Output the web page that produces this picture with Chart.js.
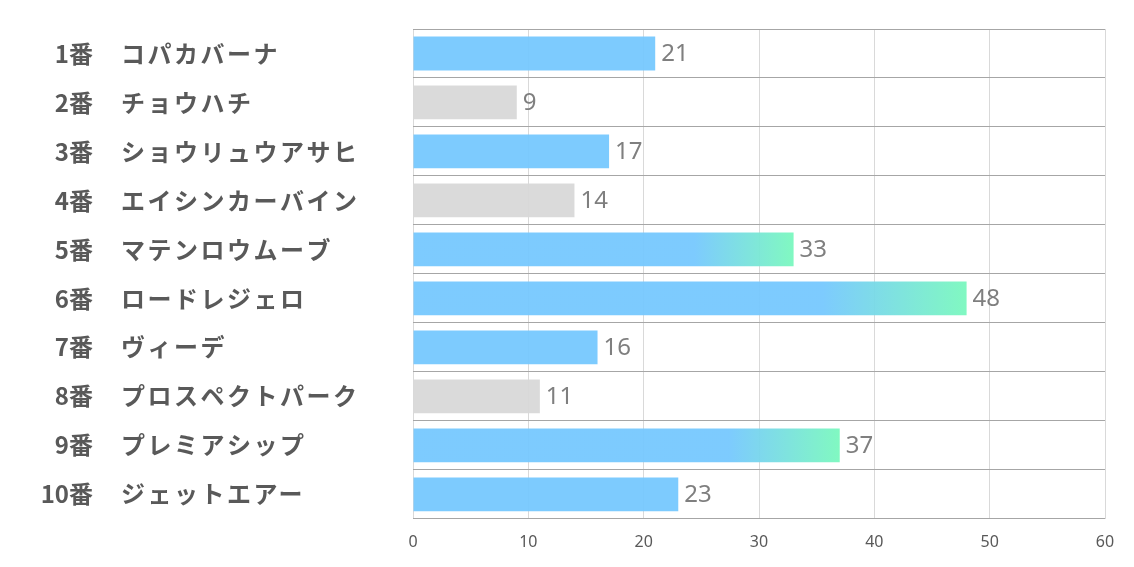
<!DOCTYPE html>
<html>
<head>
<meta charset="utf-8">
<script src="https://cdn.jsdelivr.net/npm/chart.js@4"></script>
<style>
  html, body { margin: 0; padding: 0; background: #fff; }
  #wrap { width: 1134px; height: 567px; }
</style>
</head>
<body>
<div id="wrap"><canvas id="barchart"></canvas></div>
<script>
var numLabels = ["1番", "2番", "3番", "4番", "5番", "6番", "7番", "8番", "9番", "10番"];
var horseNames = ["コパカバーナ", "チョウハチ", "ショウリュウアサヒ", "エイシンカーバイン", "マテンロウムーブ",
                  "ロードレジェロ", "ヴィーデ", "プロスペクトパーク", "プレミアシップ", "ジェットエアー"];
var votes = [21, 9, 17, 14, 33, 48, 16, 11, 37, 23];
var xTicks = [0, 10, 20, 30, 40, 50, 60];

var blue = "rgba(118,200,254,0.95)";
var green = "rgba(122,248,190,0.95)";
var grey = "rgba(216,216,216,0.95)";

function barColor(c) {
    var v = votes[c.dataIndex];
    if (v < 15) return grey;
    if (v < 30) return blue;
    var chart = c.chart;
    if (!chart.chartArea) return blue;
    var x0 = chart.scales.x.getPixelForValue(0);
    var x1 = chart.scales.x.getPixelForValue(v);
    var g = chart.ctx.createLinearGradient(x0, 0, x1, 0);
    g.addColorStop(0, blue);
    g.addColorStop(0.74, blue);
    g.addColorStop(1, green);
    return g;
}

// category labels: number right aligned, name left aligned
var labelPlugin = {
    id: "labelPlugin",
    afterDraw: function (chart) {
        var ctx = chart.ctx;
        var y = chart.scales.y;
        ctx.save();
        ctx.fillStyle = "#595959";
        ctx.font = "bold 24px 'Noto Sans CJK JP'";
        ctx.textBaseline = "middle";
        numLabels.forEach(function (n, i) {
            var py = y.getPixelForValue(i);
            ctx.letterSpacing = "0px";
            ctx.textAlign = "right";
            ctx.fillText(n, 93, py);
            ctx.letterSpacing = "2.5px";
            ctx.textAlign = "left";
            ctx.fillText(horseNames[i], 121, py);
        });
        ctx.restore();
    }
};

// value labels at bar ends
var valuePlugin = {
    id: "valuePlugin",
    afterDatasetsDraw: function (chart) {
        var ctx = chart.ctx;
        var meta = chart.getDatasetMeta(0);
        ctx.save();
        ctx.fillStyle = "#7f7f7f";
        ctx.font = "24px 'Noto Sans'";
        ctx.textBaseline = "middle";
        ctx.textAlign = "left";
        meta.data.forEach(function (bar, i) {
            ctx.fillText(String(votes[i]), bar.x + 6, bar.y + 1);
        });
        ctx.restore();
    }
};

var config = {
    type: "bar",
    data: {
        labels: numLabels.map(function (n, i) { return n + "　" + horseNames[i]; }),
        datasets: [{
            data: votes,
            backgroundColor: barColor,
            borderWidth: 0,
            barPercentage: 0.69,
            categoryPercentage: 1
        }]
    },
    options: {
        indexAxis: "y",
        responsive: true,
        maintainAspectRatio: false,
        animation: false,
        layout: { padding: { left: 0, right: 29, top: 29, bottom: 1 } },
        plugins: { legend: { display: false }, tooltip: { enabled: false } },
        scales: {
            x: {
                min: 0, max: 60,
                afterBuildTicks: function (s) { s.ticks = xTicks.map(function (v) { return { value: v }; }); },
                grid: { color: "#d9d9d9", lineWidth: 1, drawTicks: false },
                border: { display: false },
                ticks: { color: "#595959", font: { family: "'Noto Sans'", size: 16 }, padding: 14 }
            },
            y: {
                grid: { color: "#a6a6a6", lineWidth: 1, drawTicks: false, offset: true },
                border: { display: false },
                ticks: { display: false },
                afterFit: function (s) { s.width = 413; }
            }
        }
    },
    plugins: [labelPlugin, valuePlugin]
};

var barChart = new Chart(document.getElementById("barchart"), config);
</script>
</body>
</html>
